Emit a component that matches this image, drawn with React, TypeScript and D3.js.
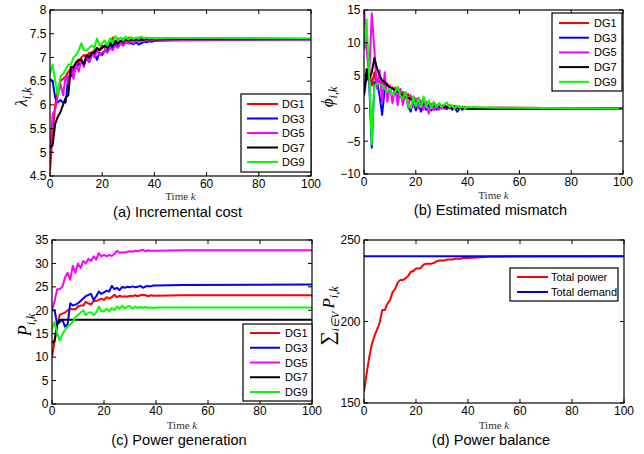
import React from 'react';
import * as d3 from 'd3';

// ---------- data ----------
const timeK = [0, 1, 2, 3, 4, 5, 6, 7, 8, 9, 10, 11, 12, 13, 14, 15, 16, 17, 18, 19, 20, 21, 22, 23, 24, 25, 26, 27, 28, 29, 30, 31, 32, 33, 34, 35, 36, 37, 38, 39, 40, 50, 100];
const xTicks = [0, 20, 40, 60, 80, 100];
const dgNames = ['DG1', 'DG3', 'DG5', 'DG7', 'DG9'];
const dgColors = ['#ff0000', '#0000ff', '#ff00ff', '#000000', '#00ff00'];

// (a) incremental cost
const lambdaDG1 = [4.6, 5.4, 6.0, 6.3, 6.5, 6.55, 6.6, 6.7, 6.75, 6.8, 6.85, 6.9, 7.0, 7.05, 7.0, 7.1, 7.1, 7.15, 7.2, 7.15, 7.25, 7.2, 7.3, 7.25, 7.42, 7.3, 7.4, 7.33, 7.4, 7.35, 7.42, 7.36, 7.4, 7.37, 7.42, 7.38, 7.41, 7.39, 7.41, 7.39, 7.4, 7.41, 7.39];
const lambdaDG3 = [6.55, 6.5, 6.15, 6.05, 6.1, 6.05, 6.05, 6.6, 6.6, 6.75, 6.8, 6.85, 6.9, 6.85, 7.0, 6.9, 7.05, 7.1, 6.95, 7.1, 7.05, 7.15, 7.15, 7.25, 7.2, 7.3, 7.25, 7.3, 7.28, 7.32, 7.3, 7.3, 7.28, 7.32, 7.27, 7.3, 7.33, 7.32, 7.34, 7.33, 7.35, 7.36, 7.38];
const lambdaDG5 = [5.0, 5.8, 5.9, 6.2, 6.45, 6.2, 6.6, 6.45, 6.8, 6.55, 6.85, 6.7, 6.95, 6.8, 7.05, 6.9, 7.1, 7.0, 7.15, 7.05, 7.1, 7.15, 7.1, 7.2, 7.15, 7.25, 7.2, 7.3, 7.25, 7.32, 7.3, 7.35, 7.3, 7.35, 7.33, 7.36, 7.34, 7.37, 7.35, 7.37, 7.36, 7.37, 7.38];
const lambdaDG7 = [5.1, 5.15, 5.6, 5.75, 5.85, 6.0, 6.15, 6.2, 6.8, 6.8, 6.9, 6.95, 6.95, 6.85, 7.05, 7.0, 7.1, 7.1, 7.2, 7.15, 7.2, 7.25, 7.2, 7.3, 7.25, 7.35, 7.3, 7.35, 7.33, 7.38, 7.35, 7.37, 7.36, 7.38, 7.37, 7.38, 7.37, 7.39, 7.38, 7.39, 7.38, 7.39, 7.39];
const lambdaDG9 = [6.65, 6.85, 6.5, 6.2, 6.6, 6.65, 6.75, 6.85, 6.85, 7.0, 7.05, 7.15, 7.3, 7.15, 7.15, 7.2, 7.25, 7.2, 7.4, 7.25, 7.3, 7.35, 7.25, 7.4, 7.3, 7.45, 7.35, 7.42, 7.36, 7.44, 7.38, 7.43, 7.39, 7.42, 7.39, 7.44, 7.4, 7.42, 7.4, 7.41, 7.4, 7.41, 7.4];
const lambdaTicks = [4.5, 5, 5.5, 6, 6.5, 7, 7.5, 8];

// (b) estimated mismatch
const phiDG1 = [9, 10, 6, 3.5, 5.5, 3.2, 4.5, 3.8, 3.5, 3.8, 3.0, 3.2, 2.5, 2.8, 2.2, 2.5, 1.8, 2.2, 1.5, 1.8, 1.2, 1.6, 0.8, 1.2, 0.6, 1.0, 0.5, 0.9, 0.4, 0.7, 0.3, 0.6, 0.2, 0.5, 0.2, 0.4, 0.1, 0.3, 0.1, 0.2, 0.0, 0.1, 0];
const phiDG3 = [2, 5, 4, -6, 4, 4, 2, -1, 3, 2.5, 2.8, 2, 2.5, 1.8, 2, 1.2, 2.3, 0.5, -0.5, 1.2, -0.3, 0.8, -0.5, 0.5, -0.2, 0.6, -0.3, 0.4, -0.2, 0.3, 0, 0.2, -0.1, 0.3, -0.2, 0.1, -0.5, 0.1, -0.2, 0.1, -0.1, -0.1, 0];
const phiDG5 = [15.5, 9, 5, 14.5, 9, 3, 5.8, 1, 5.5, 1, 3.5, 0.8, 3.2, 0.5, 3, 0.5, 2.5, 0.2, 2, 0.3, 1.5, 0, 1.2, -0.2, 1, -0.8, 0.6, -0.3, 0.5, -0.2, 0.4, -0.1, 0.3, 0, 0.2, -0.1, 0.2, 0, 0.1, -0.1, 0.1, 0.1, 0];
const phiDG7 = [2, 6, 4.5, 5.5, 7.7, 6.2, 5, 4.3, 4.0, 3.5, 3.2, 3, 2.8, 2.5, 2.2, 2.0, 1.8, 1.6, 1.4, 1.2, 1.0, 0.9, 0.8, 0.7, 0.6, 0.5, 0.45, 0.4, 0.35, 0.3, 0.25, 0.2, 0.2, 0.15, 0.1, 0.1, 0.1, 0.05, 0.05, 0.05, 0, 0, 0];
const phiDG9 = [9, 13.5, 5, -5.5, 3.5, 3.8, 3.7, 3.5, 3.0, 2.5, 3, 2, 2.5, 3.3, 2, 1.5, 2.5, 0.5, 0, 1.8, 0.3, 1.5, 0.2, 1.8, 0.2, 1.2, 0, 1, 0.2, 0.8, 0.1, 0.6, 0.9, 0.2, 0.5, 0, 0.4, 0.1, 0.3, 0, 0.2, 0.1, 0];
const phiTicks = [-10, -5, 0, 5, 10, 15];

// (c) power generation
const powDG1 = [10, 13.5, 17, 19, 19.3, 19.5, 20, 20.3, 20.2, 20.2, 20.8, 21, 21, 21.8, 21.5, 21.2, 22, 22, 22.2, 22.5, 22.2, 22.8, 22.5, 22.8, 23.3, 22.8, 23.1, 22.9, 23.0, 22.9, 23.1, 23.0, 23.2, 23.0, 23.2, 23.3, 23.2, 23.0, 23.2, 23.1, 23.1, 23.2, 23.2];
const powDG3 = [20, 20, 17, 17.5, 18, 16.5, 17, 21.5, 21, 21.2, 21.5, 22, 22.5, 23, 23.3, 23.5, 22.2, 23, 24, 23.5, 23.8, 24.2, 24, 25.2, 24.5, 24.8, 24.3, 25, 24.8, 25.0, 24.9, 25.1, 24.9, 25.0, 25.2, 24.8, 25.1, 25.2, 25.1, 25.3, 25.3, 25.4, 25.5];
const powDG5 = [20, 22, 24.5, 24.5, 25, 27, 28, 26.5, 29.5, 28, 30, 29, 30.5, 30, 31, 30.5, 31.5, 30.8, 32.2, 31.5, 31.8, 31.5, 31.8, 31.6, 32, 32.7, 32.3, 32.4, 32.3, 32.5, 32.6, 32.5, 32.7, 32.6, 32.8, 32.9, 32.6, 32.8, 32.7, 32.7, 32.7, 32.8, 32.8];
const powDG7 = [13, 13.5, 17, 18, 18, 18, 18, 18, 18, 18, 18, 18, 18, 18, 18, 18, 18, 18, 18, 18, 18, 18, 18, 18, 18, 18, 18, 18, 18, 18, 18, 18, 18, 18, 18, 18, 18, 18, 18, 18, 18, 18, 18];
const powDG9 = [16, 17.5, 15, 13.5, 15, 15.8, 16.5, 17, 17.5, 18.5, 19, 19.5, 20, 19, 19.5, 19.6, 19, 19.5, 20.8, 19.8, 19.8, 20.3, 19.8, 20.5, 20, 20.8, 20.3, 21, 20.4, 20.8, 20.9, 20.3, 20.8, 20.5, 20.7, 20.5, 20.7, 20.5, 20.6, 20.5, 20.6, 20.6, 20.6];
const powTicks = [0, 5, 10, 15, 20, 25, 30, 35];

// (d) power balance
const totalPower = [157, 168, 178, 186, 191, 195, 199, 207, 207, 211, 213, 218, 220, 224, 225.5, 225.5, 226.5, 228, 230.5, 231, 232.5, 232.5, 233, 235, 235.5, 235.5, 235.5, 236, 237, 237.5, 237.5, 237.5, 238, 238, 238, 238.5, 238.5, 238.5, 239, 239, 239, 239.8, 240];
const demandK = [0, 100];
const totalDemand = [240, 240];
const balanceTicks = [150, 200, 250];

// ---------- drawing ----------
const SANS = '"Liberation Sans", Arial, sans-serif';
const SERIF = '"Liberation Serif", "Times New Roman", serif';

type Series = { name: string; color: string; k: number[]; v: number[] };
type Legend = { x: number; y: number; w: number; h: number; row0: number; step: number; lx1: number; lx2: number; tx: number };

function Panel(props: {
  id: string;
  box: { l: number; t: number; r: number; b: number };
  yDomain: [number, number];
  yTicks: number[];
  series: Series[];
  legend: Legend;
  xTickY: number;
  xLabelY: number;
  title: string;
  titleY: number;
  yLabel: React.ReactNode;
}) {
  const { id, box, yDomain, yTicks, series, legend, xTickY, xLabelY, title, titleY, yLabel } = props;
  const x = d3.scaleLinear().domain([0, 100]).range([box.l, box.r]);
  const y = d3.scaleLinear().domain(yDomain).range([box.b, box.t]);
  const line = d3
    .line<[number, number]>()
    .x((d) => x(d[0]))
    .y((d) => y(d[1]));
  const tl = 4;
  const cx = (box.l + box.r) / 2;
  return (
    <g>
      <defs>
        <clipPath id={`clip-${id}`}>
          <rect x={box.l} y={box.t} width={box.r - box.l} height={box.b - box.t} />
        </clipPath>
      </defs>
      <rect x={box.l} y={box.t} width={box.r - box.l} height={box.b - box.t} fill="#fff" />
      <g clipPath={`url(#clip-${id})`}>
        {series.map((s) => (
          <path
            key={s.name}
            d={line(d3.zip(s.k, s.v) as [number, number][]) || ''}
            fill="none"
            stroke={s.color}
            strokeWidth={2}
            strokeLinejoin="round"
          />
        ))}
      </g>
      {xTicks.map((t) => (
        <g key={`xt${t}`}>
          <line x1={x(t)} x2={x(t)} y1={box.b} y2={box.b - tl} stroke="#000" strokeWidth={1} />
          <line x1={x(t)} x2={x(t)} y1={box.t} y2={box.t + tl} stroke="#000" strokeWidth={1} />
          <text x={x(t)} y={xTickY} textAnchor="middle" fontFamily={SANS} fontSize={12}>
            {t}
          </text>
        </g>
      ))}
      {yTicks.map((t) => (
        <g key={`yt${t}`}>
          <line x1={box.l} x2={box.l + tl} y1={y(t)} y2={y(t)} stroke="#000" strokeWidth={1} />
          <line x1={box.r} x2={box.r - tl} y1={y(t)} y2={y(t)} stroke="#000" strokeWidth={1} />
          <text x={box.l - 3.5} y={y(t) + 4.3} textAnchor="end" fontFamily={SANS} fontSize={12}>
            {t < 0 ? `\u2212${Math.abs(t)}` : String(t)}
          </text>
        </g>
      ))}
      <rect x={box.l} y={box.t} width={box.r - box.l} height={box.b - box.t} fill="none" stroke="#000" strokeWidth={1.2} />
      <rect x={legend.x} y={legend.y} width={legend.w} height={legend.h} fill="#fff" stroke="#000" strokeWidth={1.2} />
      {series.map((s, i) => {
        const ry = legend.row0 + i * legend.step;
        return (
          <g key={`lg${s.name}`}>
            <line x1={legend.lx1} x2={legend.lx2} y1={ry} y2={ry} stroke={s.color} strokeWidth={2} />
            <text x={legend.tx} y={ry + 4} fontFamily={SANS} fontSize={11}>
              {s.name}
            </text>
          </g>
        );
      })}
      <text x={cx} y={xLabelY} textAnchor="middle" fontFamily={SERIF} fontSize={11} fill="#333">
        Time <tspan fontStyle="italic">k</tspan>
      </text>
      <text x={cx - 3} y={titleY} textAnchor="middle" fontFamily={SANS} fontSize={14.6}>
        {title}
      </text>
      {yLabel}
    </g>
  );
}

const mk = (ks: number[], vals: number[][]): Series[] =>
  vals.map((v, i) => ({ name: dgNames[i], color: dgColors[i], k: ks, v }));

export default function App() {
  const seriesA = mk(timeK, [lambdaDG1, lambdaDG3, lambdaDG5, lambdaDG7, lambdaDG9]);
  const seriesB = mk(timeK, [phiDG1, phiDG3, phiDG5, phiDG7, phiDG9]);
  const seriesC = mk(timeK, [powDG1, powDG3, powDG5, powDG7, powDG9]);
  const seriesD: Series[] = [
    { name: 'Total power', color: '#ff0000', k: timeK, v: totalPower },
    { name: 'Total demand', color: '#0000ff', k: demandK, v: totalDemand },
  ];
  return (
    <svg width={644} height={454} style={{ position: 'absolute', left: 0, top: 0, background: '#fff' }}>
      <rect x={0} y={0} width={644} height={454} fill="#fff" />
      <Panel
        id="a"
        box={{ l: 50, t: 10, r: 311, b: 176 }}
        yDomain={[4.5, 8]}
        yTicks={lambdaTicks}
        series={seriesA}
        legend={{ x: 241, y: 94, w: 70, h: 78, row0: 104, step: 14.5, lx1: 247, lx2: 278, tx: 282 }}
        xTickY={187.5}
        xLabelY={200}
        title="(a) Incremental cost"
        titleY={216.5}
        yLabel={
          <text transform="translate(27,97) rotate(-90)" textAnchor="middle" fontFamily={SERIF} fontSize={17}>
            <tspan fontStyle="italic">λ</tspan>
            <tspan fontStyle="italic" fontSize={12} dy={4}>i,k</tspan>
          </text>
        }
      />
      <Panel
        id="b"
        box={{ l: 364, t: 10, r: 623, b: 174 }}
        yDomain={[-10, 15]}
        yTicks={phiTicks}
        series={seriesB}
        legend={{ x: 552, y: 13, w: 70, h: 78, row0: 23, step: 14.7, lx1: 559, lx2: 589, tx: 594 }}
        xTickY={186}
        xLabelY={199}
        title="(b) Estimated mismatch"
        titleY={215}
        yLabel={
          <text transform="translate(333,97) rotate(-90)" textAnchor="middle" fontFamily={SERIF} fontSize={17}>
            <tspan fontStyle="italic">ϕ</tspan>
            <tspan fontStyle="italic" fontSize={12} dy={4}>i,k</tspan>
          </text>
        }
      />
      <Panel
        id="c"
        box={{ l: 52, t: 240, r: 312, b: 404 }}
        yDomain={[0, 35]}
        yTicks={powTicks}
        series={seriesC}
        legend={{ x: 243, y: 324, w: 69, h: 77, row0: 333, step: 14.75, lx1: 250, lx2: 280, tx: 285 }}
        xTickY={415}
        xLabelY={429}
        title="(c) Power generation"
        titleY={445}
        yLabel={
          <text transform="translate(31,325) rotate(-90)" textAnchor="middle" fontFamily={SERIF} fontSize={18}>
            <tspan fontStyle="italic">P</tspan>
            <tspan fontStyle="italic" fontSize={12} dy={4}>i,k</tspan>
          </text>
        }
      />
      <Panel
        id="d"
        box={{ l: 364, t: 240, r: 624, b: 403 }}
        yDomain={[150, 250]}
        yTicks={balanceTicks}
        series={seriesD}
        legend={{ x: 510, y: 268, w: 108, h: 33, row0: 277, step: 15, lx1: 517, lx2: 548, tx: 551 }}
        xTickY={415}
        xLabelY={429}
        title="(d) Power balance"
        titleY={445}
        yLabel={
          <text transform="translate(334,316) rotate(-90)" textAnchor="middle" fontFamily={SERIF} fontSize={17}>
            <tspan fontSize={20}>∑</tspan>
            <tspan fontStyle="italic" fontSize={11} dy={5}>i∈V</tspan>
            <tspan fontStyle="italic" dy={-5} dx={3}>P</tspan>
            <tspan fontStyle="italic" fontSize={12} dy={4}>i,k</tspan>
          </text>
        }
      />
    </svg>
  );
}
